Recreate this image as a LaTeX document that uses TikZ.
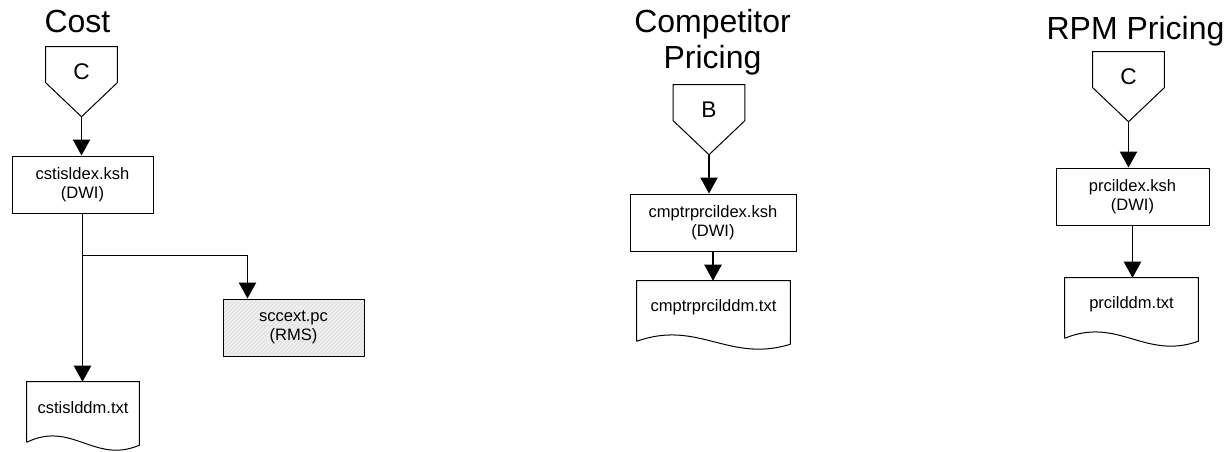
\documentclass[tikz,border=0pt]{standalone}
\usepackage{fontspec}
\setmainfont{Liberation Sans}
\usetikzlibrary{positioning,calc,arrows.meta,patterns}

\begin{document}
\begin{tikzpicture}[x=0.75pt, y=-0.75pt,
    every node/.style={inner sep=0.001},
    title/.style={font=\fontsize{24}{27}\selectfont, align=center, anchor=base},
    offpage/.style={minimum width=53.25pt, minimum height=37.5pt, font=\fontsize{17}{20}\selectfont},
    job/.style={draw, line width=0.75pt, minimum height=42.75pt, align=center, font=\fontsize{12.4}{14.5}\selectfont},
    datafile/.style={minimum height=39pt, align=center, font=\fontsize{12.4}{14.5}\selectfont},
    flow/.style={line width=0.8pt, -{Triangle[width=13pt,length=12pt]}},
  ]
  \useasboundingbox (0,0) rectangle (1228,451);

  % Cost
  \node[title] (costtitle) at (77.5,32) {Cost};
  \node[offpage] (costin) at (81.5,72) {C};
  \node[job, minimum width=105.75pt] (costksh) at (82.5,184.5) {cstisldex.ksh\\(DWI)};
  \node[job, minimum width=105.75pt, preaction={fill=gray!22}, pattern=north east lines,
        pattern color=white] (sccext) at (293.5,327.5) {sccext.pc\\(RMS)};
  \node[datafile, minimum width=84pt] (costdoc) at (83,408) {cstislddm.txt};

  % Competitor pricing
  \node[title] (cmptitle) at (712.5,68) {Competitor\\Pricing};
  \node[offpage] (cmpin) at (709,110) {B};
  \node[job, minimum width=124.5pt] (cmpksh) at (713,222.5) {cmptrprcildex.ksh\\(DWI)};
  \node[datafile, minimum width=114.75pt] (cmpdoc) at (713.5,307) {cmptrprcilddm.txt};

  % RPM pricing
  \node[title] (rpmtitle) at (1135.5,39) {RPM Pricing};
  \node[offpage] (rpmin) at (1128.5,77) {C};
  \node[job, minimum width=114.75pt] (rpmksh) at (1132.5,196.5) {prcildex.ksh\\(DWI)};
  \node[datafile, minimum width=99.75pt] (rpmdoc) at (1131.5,304) {prcilddm.txt};

  % Off-page connector outlines
  \foreach \n in {costin,cmpin,rpmin} {
    \draw[line width=0.75pt] (\n.north west) -- (\n.north east) -- ($(\n.north east)+(0,36)$)
      -- ($(\n.north)+(0,70)$) coordinate (\n-tip) -- ($(\n.north west)+(0,36)$) -- cycle;
  }

  % Document outlines
  \foreach \n in {costdoc,cmpdoc,rpmdoc} {
    \draw[line width=0.75pt] ($(\n.south west)+(0,8)$) -- (\n.north west) -- (\n.north east)
      -- ($(\n.south east)+(0,11)$)
      .. controls ($(\n.south east)!0.4!(\n.south west)+(0,30)$)
      and ($(\n.south west)!0.4!(\n.south east)+(0,-14)$) .. ($(\n.south west)+(0,8)$);
  }

  % Connectors
  \coordinate (split) at ($(costksh.south)+(0,42)$);
  \draw[flow] (costin-tip) -- (costin-tip |- costksh.north);
  \draw[line width=0.8pt] (costksh.south) -- (split);
  \draw[flow] (split) -- (split |- costdoc.north);
  \draw[flow] (split) -| ($(sccext.north west)+(25,0)$);

  \draw[flow] (cmpin-tip) -- (cmpin-tip |- cmpksh.north);
  \draw[flow] (cmpksh.south) -- (cmpksh.south |- cmpdoc.north);

  \draw[flow] (rpmin-tip) -- (rpmin-tip |- rpmksh.north);
  \draw[flow] (rpmksh.south) -- (rpmksh.south |- rpmdoc.north);
\end{tikzpicture}
\end{document}
